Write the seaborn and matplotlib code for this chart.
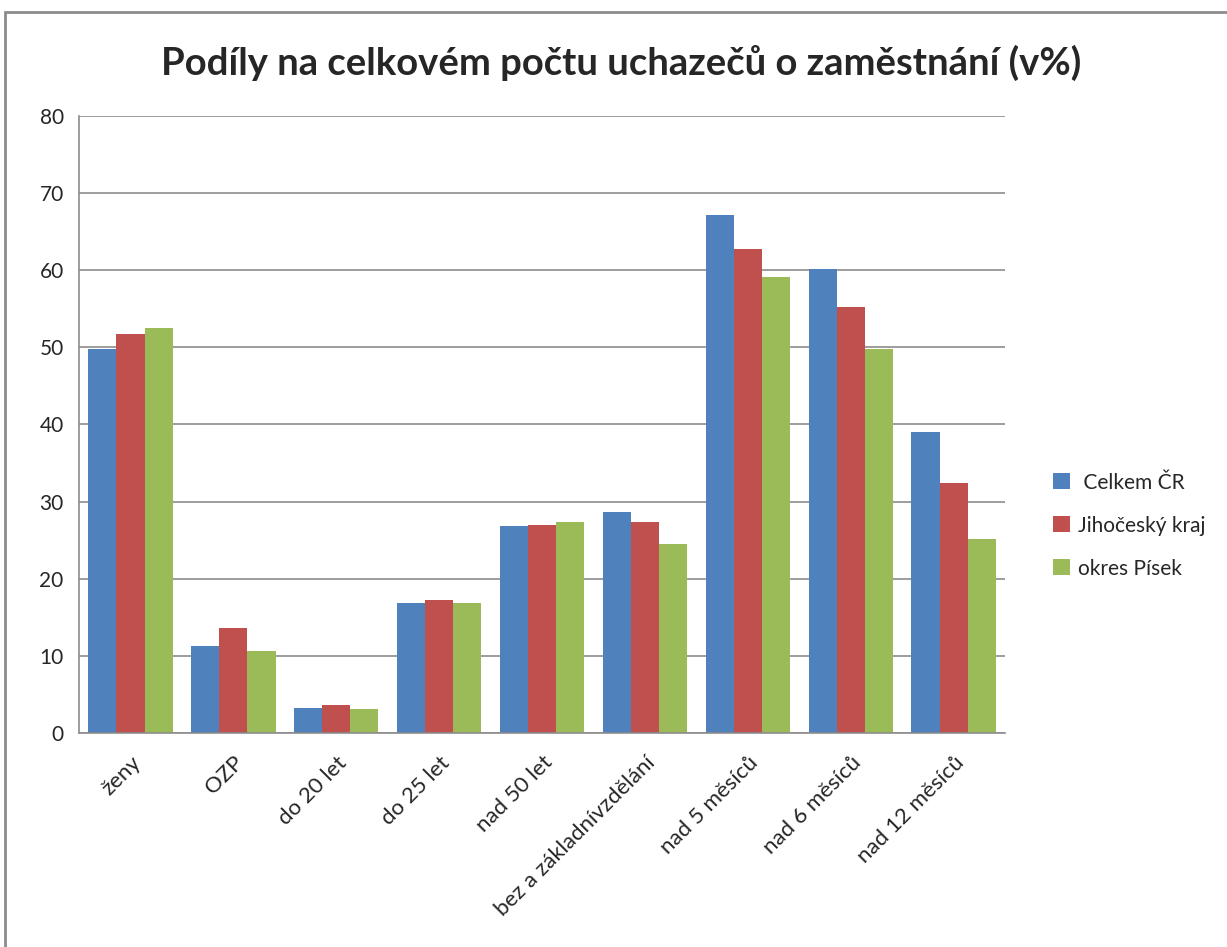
import pandas as pd
import numpy as np
import matplotlib.pyplot as plt
import seaborn as sns
from matplotlib.patches import Rectangle

categories = ["ženy", "OZP", "do 20 let", "do 25 let", "nad 50 let",
              "bez a základnívzdělání", "nad 5 měsíců", "nad 6 měsíců", "nad 12 měsíců"]
series = ["Celkem ČR", "Jihočeský kraj", "okres Písek"]
celkem_cr = [49.8, 11.3, 3.3, 16.8, 26.9, 28.7, 67.1, 60.2, 39.0]
jihocesky = [51.7, 13.6, 3.6, 17.2, 27.0, 27.4, 62.8, 55.2, 32.4]
pisek = [52.5, 10.6, 3.1, 16.8, 27.4, 24.5, 59.1, 49.8, 25.1]
colors = ["#4F81BD", "#C0504D", "#9BBB59"]

df = pd.DataFrame({
    "kategorie": categories * 3,
    "serie": [series[0]] * 9 + [series[1]] * 9 + [series[2]] * 9,
    "hodnota": celkem_cr + jihocesky + pisek,
})

sns.set_style("white")
plt.rcParams["font.family"] = ["Lato", "DejaVu Sans"]

fig = plt.figure(figsize=(12.27, 9.47), dpi=100)
ax = fig.add_axes([0.0644, 0.226, 0.7547, 0.6515])

sns.barplot(data=df, x="kategorie", y="hodnota", hue="serie", palette=colors,
            width=0.82, saturation=1, ax=ax, legend=True, edgecolor="none")

ax.set_xlim(-0.5, 8.5)
ax.set_ylim(0, 80)
ax.set_yticks(np.arange(0, 81, 10))
ax.set_xlabel("")
ax.set_ylabel("")
ax.yaxis.grid(True, color="#8c8c8c", linewidth=1.2)
ax.set_axisbelow(True)
for s in ["top", "right"]:
    ax.spines[s].set_visible(False)
for s in ["left", "bottom"]:
    ax.spines[s].set_color("#8c8c8c")
    ax.spines[s].set_linewidth(1.2)

# category boundary ticks like in Excel
ax.set_xticks(np.arange(-0.5, 9, 1), minor=True)
ax.tick_params(axis="x", which="major", length=0, pad=14)
ax.tick_params(axis="x", which="minor", length=7, color="#8c8c8c", width=1.2)
ax.tick_params(axis="y", length=7, color="#8c8c8c", width=1.2, labelsize=15, pad=4)
plt.setp(ax.get_xticklabels(), rotation=45, ha="right", rotation_mode="anchor", fontsize=16)

h, l = ax.get_legend_handles_labels()
ax.get_legend().remove()
fig.legend(h, [" Celkem ČR", "Jihočeský kraj", "okres Písek"], loc="center left",
           bbox_to_anchor=(0.843, 0.445), frameon=False, fontsize=15,
           handlelength=0.8, handleheight=0.8, handletextpad=0.4, labelspacing=1.1)

fig.text(0.506, 0.934, "Podíly na celkovém počtu uchazečů o zaměstnání (v%)",
         ha="center", va="center", fontsize=27.5, fontweight="bold")

fig.patches.append(Rectangle((0.004, -0.1), 1.1, 1.087, transform=fig.transFigure,
                             fill=False, edgecolor="#8c8c8c", linewidth=2))

fig.savefig("out.png", dpi=100)
